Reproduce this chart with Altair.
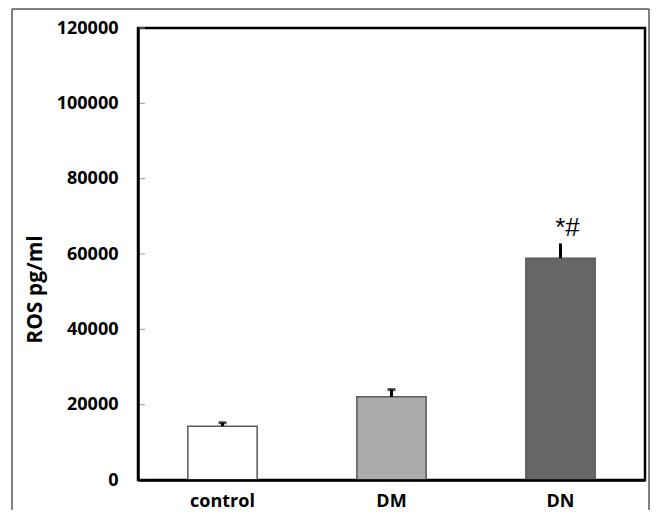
import altair as alt
import pandas as pd

groups = ["control", "DM", "DN"]
means = [14300, 22100, 58900]
errs = [900, 1900, 3900]
fills = ["#ffffff", "#ababab", "#666666"]
capped = ["control", "DM"]
y_ticks = [0, 20000, 40000, 60000, 80000, 100000, 120000]
annot_group = "DN"
annot_text = "*#"

df = pd.DataFrame({"group": groups, "mean": means, "err": errs})
df["top"] = df["mean"] + df["err"]
df["label"] = [annot_text if g == annot_group else "" for g in groups]
ticks = pd.DataFrame({"t": y_ticks})

FONT = "Open Sans"
YT = "ROS pg/ml"

xenc = alt.X("group:N", sort=groups,
             scale=alt.Scale(domain=groups, paddingInner=0.59, paddingOuter=0.295),
             axis=alt.Axis(title=None, labelFont=FONT, labelFontWeight="bold",
                           labelFontSize=18, labelColor="black", labelPadding=12,
                           labelAngle=0, ticks=False, domain=True, domainColor="black",
                           domainWidth=2.5, zindex=1))
yscale = alt.Scale(domain=[0, 120000], nice=False)

bars = alt.Chart(df).mark_bar(stroke="#5a5a5a", strokeWidth=1.5).encode(
    x=xenc,
    y=alt.Y("mean:Q", scale=yscale, title=YT,
            axis=alt.Axis(values=y_ticks, format="d", grid=False, ticks=False,
                          domain=True, domainColor="black", domainWidth=2.5, zindex=1,
                          labelFont=FONT, labelFontWeight="bold", labelFontSize=18,
                          labelColor="black", labelPadding=20,
                          titleFont=FONT, titleFontWeight="bold", titleFontSize=21,
                          titleColor="black", titleAngle=270, titleAlign="center",
                          titleBaseline="middle", titleX=-103, titleY=261)),
    color=alt.Color("group:N", scale=alt.Scale(domain=groups, range=fills), legend=None),
)

err_rules = alt.Chart(df).mark_rule(color="black", strokeWidth=3).encode(
    x=alt.X("group:N", sort=groups),
    y=alt.Y("mean:Q", scale=yscale, title=YT),
    y2="top:Q",
)

caps = alt.Chart(df).mark_tick(color="black", size=8, thickness=3).encode(
    x=alt.X("group:N", sort=groups),
    y=alt.Y("top:Q", scale=yscale, title=YT),
).transform_filter(alt.FieldOneOfPredicate(field="group", oneOf=capped))

annot = alt.Chart(df).mark_text(font="Liberation Sans", fontSize=26, color="black",
                                baseline="bottom", dx=7, dy=-2).encode(
    x=alt.X("group:N", sort=groups),
    y=alt.Y("top:Q", scale=yscale, title=YT),
    text="label:N",
)

tick_marks = alt.Chart(ticks).mark_rule(color="#999999", strokeWidth=1).encode(
    y=alt.Y("t:Q", scale=yscale, title=YT),
    x=alt.value(1), x2=alt.value(7),
)

frame_data = pd.DataFrame({"k": [0]})
frame_left = alt.Chart(frame_data).mark_rule(color="#555555", strokeWidth=1.5).encode(
    x=alt.value(-126), y=alt.value(-19), y2=alt.value(482))
frame_top = alt.Chart(frame_data).mark_rule(color="#555555", strokeWidth=1.5).encode(
    x=alt.value(-126), x2=alt.value(511), y=alt.value(-19))
frame_right = alt.Chart(frame_data).mark_rule(color="#555555", strokeWidth=1.5).encode(
    x=alt.value(511), y=alt.value(-19), y2=alt.value(482))

chart = alt.layer(
    bars, tick_marks, err_rules, caps, annot, frame_left, frame_top, frame_right
).properties(
    width=507, height=452,
    autosize="none",
    padding={"left": 130, "top": 20, "right": 6, "bottom": 30},
).configure_view(stroke="black", strokeWidth=2.5)

chart.save("out.html", embed_options={"renderer": "svg", "actions": False})
